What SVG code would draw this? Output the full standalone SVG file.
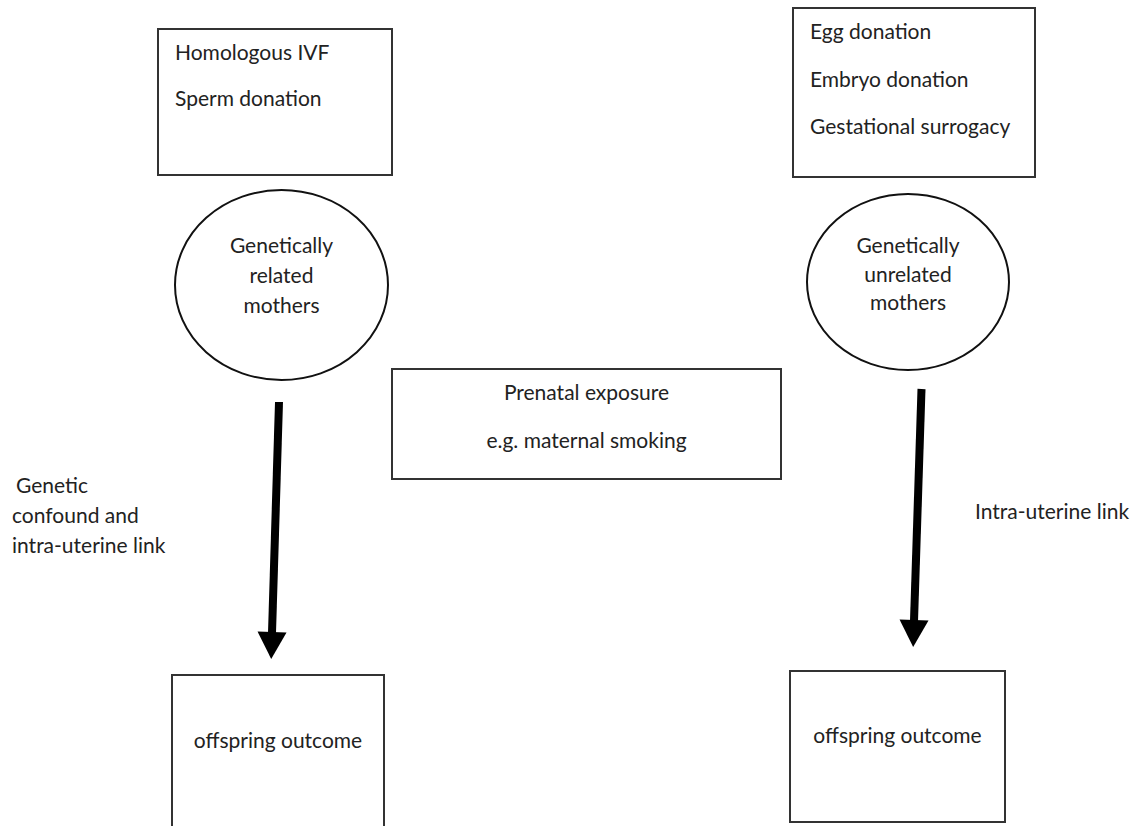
<svg xmlns="http://www.w3.org/2000/svg" width="1137" height="826" viewBox="0 0 1137 826">
<style>
.box{fill:#fff;stroke:#333;stroke-width:2}
.ell{fill:#fff;stroke:#111;stroke-width:2}
text{font-family:Lato,"Liberation Sans",sans-serif;font-size:21px;fill:#222}
.c{text-anchor:middle}
.arrow{stroke:#000;stroke-width:8;fill:none}
</style>
<defs>
<marker id="ah" markerUnits="userSpaceOnUse" markerWidth="30" markerHeight="30" refX="1" refY="14.5" orient="auto" overflow="visible">
<path d="M0,0 L27,14.5 L0,29 z" fill="#000"/>
</marker>
</defs>
<rect width="1137" height="826" fill="#fff"/>
<g id="connectors">
<line class="arrow" x1="279" y1="402" x2="272" y2="633" marker-end="url(#ah)"/>
<line class="arrow" x1="921.5" y1="389" x2="914" y2="621" marker-end="url(#ah)"/>
</g>
<g id="box-related">
<rect class="box" x="158" y="29" width="234" height="146"/>
<text x="175" y="60">Homologous IVF</text>
<text x="175" y="106">Sperm donation</text>
</g>
<g id="box-unrelated">
<rect class="box" x="793" y="8" width="242" height="169"/>
<text x="810" y="39">Egg donation</text>
<text x="810" y="87">Embryo donation</text>
<text x="810" y="134">Gestational surrogacy</text>
</g>
<g id="mothers-related">
<ellipse class="ell" cx="281.5" cy="285" rx="106.5" ry="95"/>
<text class="c" x="281.5" y="253">Genetically</text>
<text class="c" x="281.5" y="283">related</text>
<text class="c" x="281.5" y="313">mothers</text>
</g>
<g id="mothers-unrelated">
<ellipse class="ell" cx="908" cy="282" rx="101" ry="88"/>
<text class="c" x="908" y="253">Genetically</text>
<text class="c" x="908" y="282">unrelated</text>
<text class="c" x="908" y="310">mothers</text>
</g>
<g id="prenatal">
<rect class="box" x="392" y="369" width="389" height="110"/>
<text class="c" x="586.5" y="400">Prenatal exposure</text>
<text class="c" x="586.5" y="448">e.g. maternal smoking</text>
</g>
<g id="label-left">
<text x="16" y="493">Genetic</text>
<text x="12" y="523">confound and</text>
<text x="12" y="553">intra-uterine link</text>
</g>
<g id="label-right">
<text x="975" y="519">Intra-uterine link</text>
</g>
<g id="outcome-left">
<rect class="box" x="172" y="675" width="212" height="160"/>
<text class="c" x="278" y="748">offspring outcome</text>
</g>
<g id="outcome-right">
<rect class="box" x="790" y="671" width="215" height="151"/>
<text class="c" x="897.5" y="743">offspring outcome</text>
</g>
</svg>
